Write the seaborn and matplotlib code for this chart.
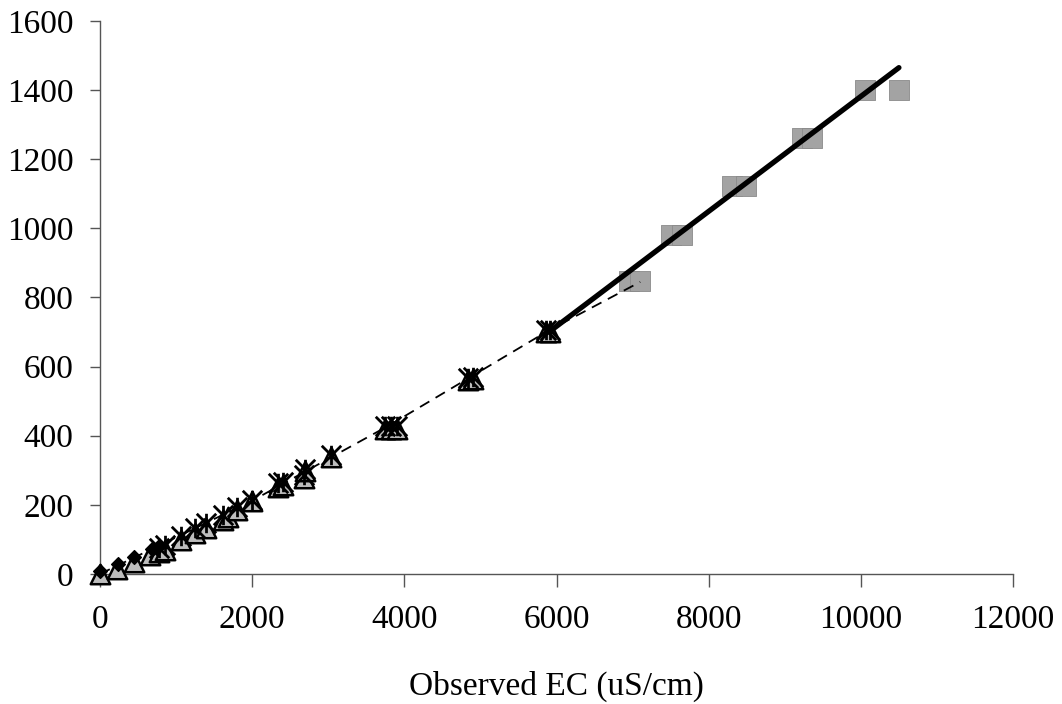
import matplotlib
matplotlib.use("Agg")
import matplotlib.pyplot as plt
from matplotlib.path import Path
from matplotlib.markers import MarkerStyle
import seaborn as sns
import pandas as pd

# Observed EC (uS/cm) vs predicted values, grouped by range
tri_x = [0, 220, 440, 660, 770, 860, 1060, 1250, 1390, 1620, 1680, 1800, 2000,
         2340, 2400, 2680, 2690, 3030, 3750, 3830, 3900, 4840, 4900, 5860, 5920]
tri_y = [0, 14, 35, 56, 63, 70, 98, 118, 134, 157, 165, 186, 210,
         252, 258, 278, 298, 338, 420, 420, 420, 562, 565, 700, 700]

star_x = [770, 860, 1060, 1250, 1390, 1620, 1800, 2000, 2340, 2400, 2680, 2690,
          3030, 3750, 3830, 3900, 4840, 4900, 5860, 5920]
star_y = [75, 85, 110, 132, 147, 170, 195, 215, 262, 265, 285, 305,
          345, 428, 428, 428, 568, 570, 705, 705]

dia_x = [0, 230, 450, 680, 760]
dia_y = [8, 28, 48, 72, 78]

sq_x = [6950, 7100, 7500, 7650, 8300, 8490, 9220, 9360, 10050, 10500]
sq_y = [848, 848, 982, 982, 1122, 1122, 1262, 1262, 1400, 1400]

# trend lines
dash_x = [0, 2000, 3800, 4870, 5900, 7100]
dash_y = [0, 212, 430, 570, 705, 845]
fit_x = [5900, 10500]
fit_y = [700, 1465]

x_ticks = [0, 2000, 4000, 6000, 8000, 10000, 12000]
y_ticks = [0, 200, 400, 600, 800, 1000, 1200, 1400, 1600]

sns.set_style("ticks")
plt.rcParams["font.family"] = ["Liberation Serif", "DejaVu Serif"]
plt.rcParams["text.color"] = "black"
plt.rcParams["xtick.labelcolor"] = "black"
plt.rcParams["ytick.labelcolor"] = "black"
plt.rcParams["axes.labelcolor"] = "black"

fig = plt.figure(figsize=(10.62, 7.04), dpi=100)
ax = fig.add_axes([0.0942, 0.1847, 0.8597, 0.7855])

# star marker: X with a vertical bar
star_path = Path(
    [(-1, -1), (1, 1), (-1, 1), (1, -1), (0, -1), (0, 1)],
    [Path.MOVETO, Path.LINETO, Path.MOVETO, Path.LINETO, Path.MOVETO, Path.LINETO],
)
star_marker = MarkerStyle(star_path)

sns.scatterplot(data=pd.DataFrame({"x": tri_x, "y": tri_y}), x="x", y="y", ax=ax,
                marker="^", s=14 ** 2, color="#bdbdbd", edgecolor="black",
                linewidth=1.8, clip_on=False, zorder=3)
sns.scatterplot(data=pd.DataFrame({"x": star_x, "y": star_y}), x="x", y="y", ax=ax,
                marker=star_marker, s=14 ** 2, color="black", edgecolor="black",
                linewidth=2.0, clip_on=False, zorder=4)
sns.scatterplot(data=pd.DataFrame({"x": dia_x, "y": dia_y}), x="x", y="y", ax=ax,
                marker="D", s=7 ** 2, color="black", edgecolor="black",
                linewidth=1.0, clip_on=False, zorder=5)
sns.scatterplot(data=pd.DataFrame({"x": sq_x, "y": sq_y}), x="x", y="y", ax=ax,
                marker="s", s=14 ** 2, color="#a3a3a3", edgecolor="#8a8a8a",
                linewidth=0.6, clip_on=False, zorder=3)

sns.lineplot(x=dash_x, y=dash_y, ax=ax, color="black", linewidth=1.3,
             linestyle=(0, (6, 4)), sort=False, zorder=6)
sns.lineplot(x=fit_x, y=fit_y, ax=ax, color="black", linewidth=3.8,
             solid_capstyle="round", sort=False, zorder=7)

ax.set_xlim(0, 12000)
ax.set_ylim(0, 1600)
ax.set_xticks(x_ticks)
ax.set_yticks(y_ticks)
ax.set_xticklabels([str(v) for v in x_ticks], fontsize=24)
ax.set_yticklabels([str(v) for v in y_ticks], fontsize=24)
ax.tick_params(axis="x", direction="out", length=9, width=1, color="#555555",
               pad=13, labelcolor="black")
ax.tick_params(axis="y", direction="out", length=7, width=1, color="#555555",
               pad=12, labelcolor="black")

ax.set_xlabel("Observed EC (uS/cm)", fontsize=24, labelpad=26, color="black")
ax.set_ylabel("")

for side in ["top", "right"]:
    ax.spines[side].set_visible(False)
for side in ["left", "bottom"]:
    ax.spines[side].set_color("#555555")
    ax.spines[side].set_linewidth(1.0)

fig.savefig("out.png", dpi=100, facecolor="white")
